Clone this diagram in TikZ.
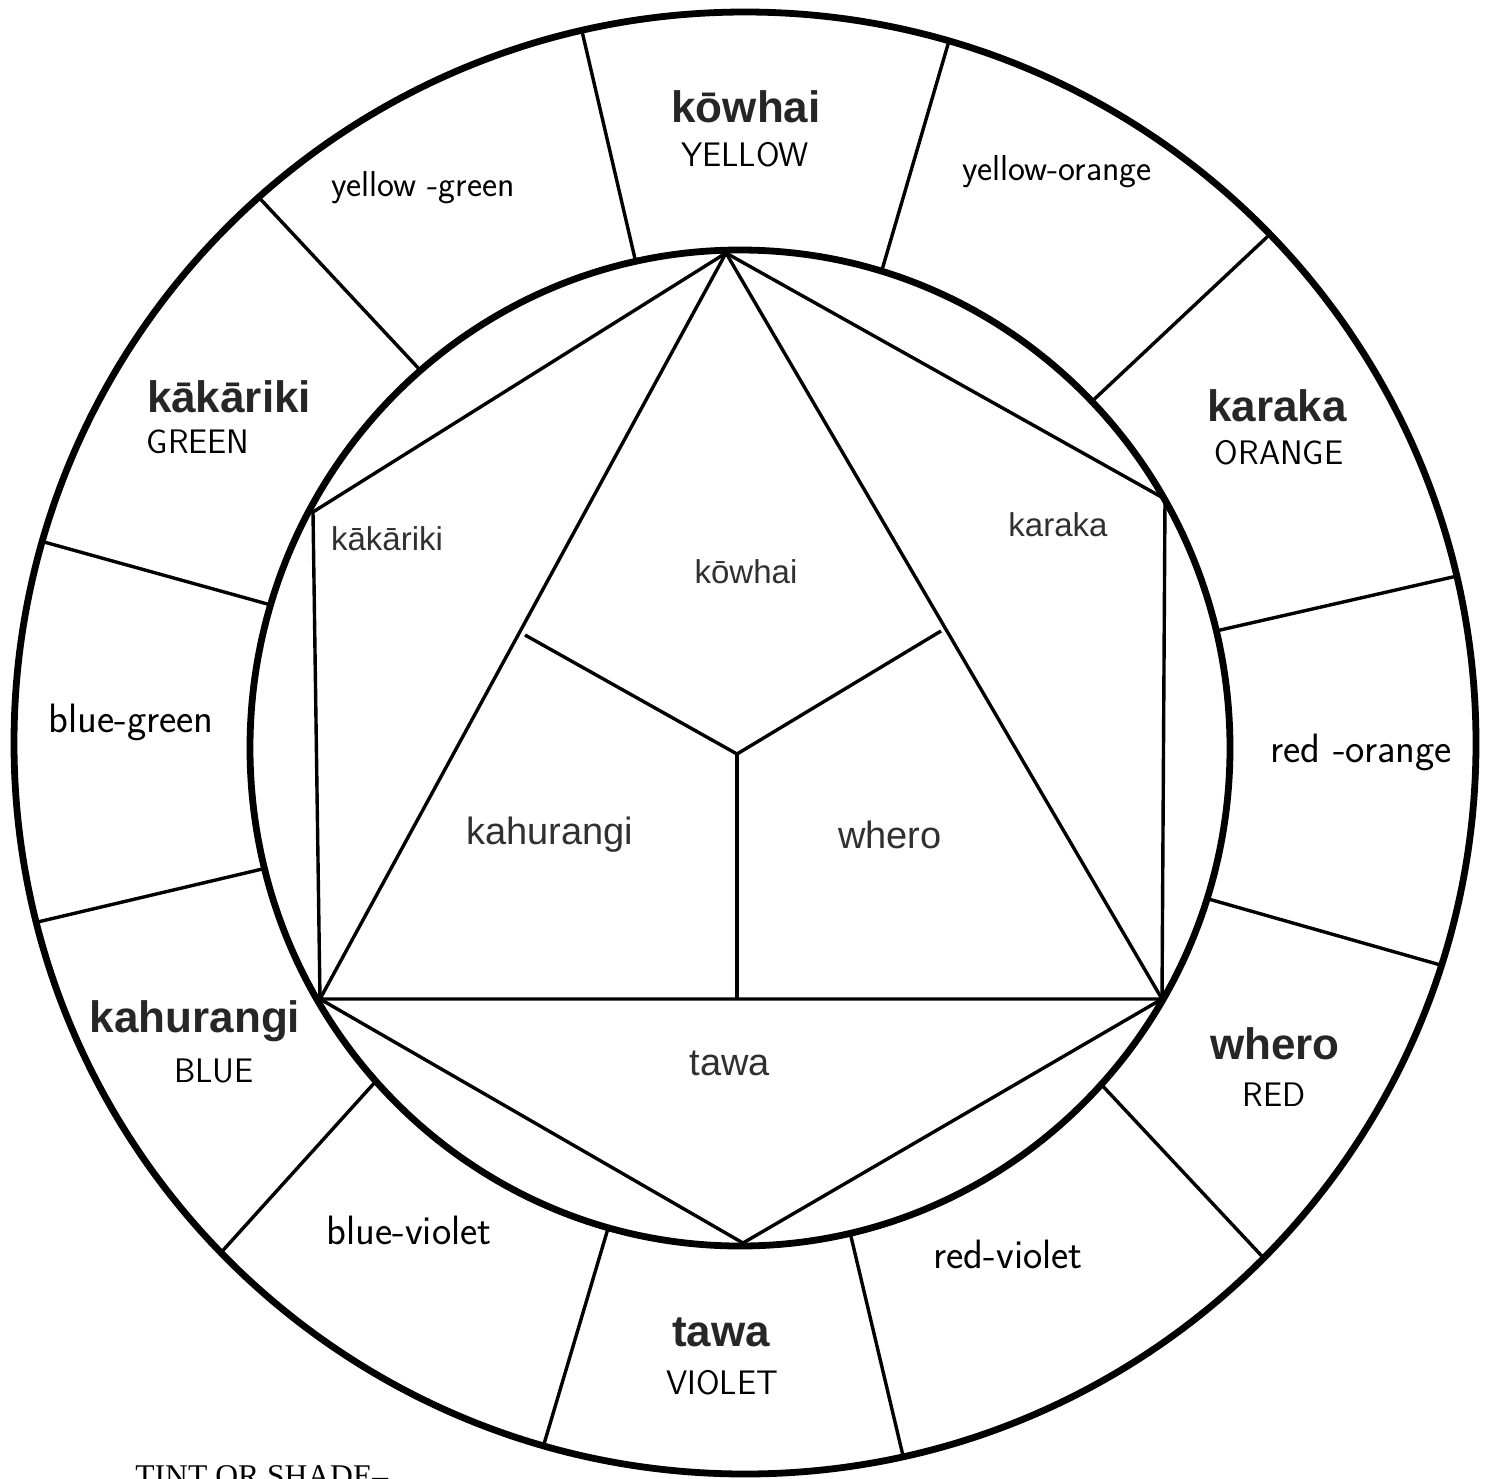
\documentclass[tikz,border=0pt]{standalone}
\usepackage{fontspec}
\setmainfont{Liberation Sans}
\newfontfamily\serifT{Liberation Serif}
\usetikzlibrary{calc}
\definecolor{labgray}{RGB}{38,38,38}
\definecolor{ingray}{RGB}{48,48,48}
\begin{document}
\begin{tikzpicture}[x=0.5pt,y=-0.5pt,
  ring/.style={line width=3.4pt},
  divider/.style={line width=1.7pt, line join=round},
  boldlab/.style={font=\fontsize{22}{24}\selectfont\bfseries, text=labgray, inner sep=0pt},
  capslab/.style={font=\fontsize{17}{19}\selectfont\sffamily, inner sep=0pt},
  handlab/.style={font=\fontsize{18}{20}\selectfont\sffamily, inner sep=0pt},
  handbig/.style={font=\fontsize{20.5}{22}\selectfont\sffamily, inner sep=0pt},
  inbig/.style={font=\fontsize{19}{21}\selectfont, text=ingray, inner sep=0pt},
  insmall/.style={font=\fontsize{16.5}{18}\selectfont, text=ingray, inner sep=0pt}
]
\useasboundingbox (0,0) rectangle (1490,1479);
\coordinate (O) at (745,743);
\coordinate (I) at (740,748);

% dividers of the outer ring
\foreach \n/\ao/\ai in {1/102.9/102.3, 2/73.8/73.2, 3/44.1/44.1, 4/13.2/13.6,
  5/-17.7/-17.6, 6/-44.8/-42.5, 7/-77.5/-77, 8/-106/-105.6,
  9/-135.8/-138, 10/194.2/194, 11/164/163.3, 12/131.7/130.7}{
  \coordinate (o\n) at ([shift={(O)}]\ao:365.5pt);
  \coordinate (i\n) at ([shift={(I)}]\ai:245pt and 249pt);
  \draw[divider] (o\n) -- (i\n);
}

% inner figure
\coordinate (T) at (726,253);
\coordinate (KR) at (1165,499);
\coordinate (R) at (1162,999);
\coordinate (B) at (743,1243);
\coordinate (L) at (320,999);
\coordinate (KL) at (313,512);
\coordinate (C) at (737,754);
\coordinate (CA) at (525,635);
\coordinate (CB) at (941,631);
\coordinate (CD) at (737,999);
\draw[divider] (T) -- (L) -- (R) -- cycle;
\draw[divider] (T) -- (KR) -- (R) -- (B) -- (L) -- (KL) -- cycle;
\draw[divider] (CA) -- (C) -- (CB);
\draw[divider] (C) -- (CD);

% rings
\draw[ring] (O) circle[radius=365.5pt];
\draw[ring] (I) ellipse[x radius=245pt, y radius=249pt];

% outer labels
\node[boldlab] (kowhaiB) at (746,107) {kōwhai};
\node[capslab] (yellow) at (745,155) {YELLOW};
\node[handlab] (yg) at (423,188) {yellow -green};
\node[handlab] (yo) at (1057,172) {yellow-orange};
\node[boldlab] (kakarikiB) at (229,397) {kākāriki};
\node[capslab] (green) at (198,442) {GREEN};
\node[boldlab] (karakaB) at (1277,406) {karaka};
\node[capslab] (orange) at (1279,453) {ORANGE};
\node[handbig] (bg) at (131,722) {blue-green};
\node[handbig] (ro) at (1361,752) {red -orange};
\node[boldlab] (kahurangiB) at (195,1021) {kahurangi};
\node[capslab] (blue) at (214,1071) {BLUE};
\node[boldlab] (wheroB) at (1275,1044) {whero};
\node[capslab] (red) at (1274,1095) {RED};
\node[handbig] (bv) at (409,1230) {blue-violet};
\node[handbig] (rv) at (1008,1254) {red-violet};
\node[boldlab] (tawaB) at (721,1332) {tawa};
\node[capslab] (violet) at (722,1383) {VIOLET};

% inner labels
\node[insmall] (kowhaiI) at (746,572) {kōwhai};
\node[insmall] (kakarikiI) at (387,539) {kākāriki};
\node[insmall] (karakaI) at (1058,525) {karaka};
\node[inbig] (kahurangiI) at (550,835) {kahurangi};
\node[inbig] (wheroI) at (890,835) {whero};
\node[inbig] (tawaI) at (730,1063) {tawa};

% cut-off note, as in the reference
\node[font=\fontsize{15.8}{17}\selectfont\serifT, anchor=base west, inner sep=0pt] (tint) at (135,1486) {TINT OR SHADE–};
\end{tikzpicture}
\end{document}
